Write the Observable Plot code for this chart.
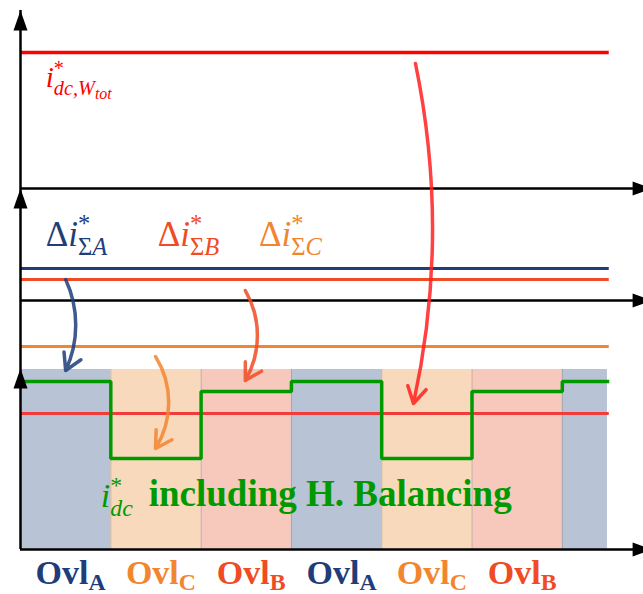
<!DOCTYPE html>
<html><head><meta charset="utf-8">
<script src="https://cdn.jsdelivr.net/npm/d3@7"></script>
<script src="https://cdn.jsdelivr.net/npm/@observablehq/plot@0.6"></script>
<style>body{margin:0;background:#fff}</style>
</head><body>
<script>
// ---- data (time in overload periods, currents in arbitrary units) ----
const phases      = ["A", "C", "B", "A", "C", "B", "A"];
const phaseStart  = [0, 1, 2, 3, 4, 5, 6];
const phaseEnd    = [1, 2, 3, 4, 5, 6, 6.5];
const dcRefLevel  = [168, 91, 158, 168, 91, 158, 168]; // i*_dc incl. H. balancing
const lineEnd     = 6.52;
const shadeTop    = 180;

const levelNames  = ["iWtot", "dA", "dB", "dC", "iWtotBottom"];
const levelValues = [497, 281, 270, 203, 136];
const levelColors = ["#ff0000", "#1f3d79", "#ef4b25", "#f28530", "#f23b3b"];
const levelWidths = [3.5, 3, 3, 3, 3];

const axisBaselines = [361, 249, 0];
const axisTops      = [539, 361, 181];
const axisXTip      = 7;

const phaseFill  = {A: "#b8c3d5", C: "#f9d9bb", B: "#f7c9bc"};
const phaseInk   = {A: "#1f3d79", C: "#f28530", B: "#ef4b25"};
const ovlLabels  = ["Ovl_{A}", "Ovl_{C}", "Ovl_{B}", "Ovl_{A}", "Ovl_{C}", "Ovl_{B}"];
const ovlBaseline = -34;

const mathLabels = ["i^{*}_{dc,W}__{tot}", "Δi^{*}_{ΣA}", "Δi^{*}_{ΣB}", "Δi^{*}_{ΣC}", "i^{*}_{dc}"];
const mathT      = [0.28, 0.28, 1.52, 2.64, 0.89];
const mathV      = [463, 304, 304, 304, 43];
const mathColor  = ["#ff0000", "#1f3d79", "#ef4b25", "#f28530", "#009a00"];
const mathSize   = [29, 35, 35, 35, 34];

const wordLabel = "including H. Balancing";
const wordT = 1.42, wordV = 44;

const arrowX1 = [0.50, 1.495, 2.49, 4.374];
const arrowY1 = [270, 193, 259, 486];
const arrowX2 = [0.50, 1.495, 2.49, 4.352];
const arrowY2 = [179, 101, 169, 146];
const arrowBend = [25, 32, 30, 12];
const arrowColor = ["#1f3d79", "#f28530", "#ef4b25", "#ff2020"];

const serif = "Times New Roman";

// ---- tables built from the arrays ----
const segs = phases.map((p, i) => ({phase: p, x1: phaseStart[i], x2: phaseEnd[i], level: dcRefLevel[i]}));
const stepPts = segs.map(s => ({t: s.x1, v: s.level})).concat([{t: lineEnd, v: dcRefLevel[dcRefLevel.length - 1]}]);
const levels = levelNames.map((n, i) => ({name: n, v: levelValues[i], color: levelColors[i], w: levelWidths[i]}));
const bounds = phaseStart.slice(1);
const vTips = axisTops.map(v => ({t: 0, v, r: 0}));
const hTips = axisBaselines.map(v => ({t: axisXTip, v, r: 90}));
const ovl = ovlLabels.map((l, i) => ({label: l, t: (phaseStart[i] + phaseEnd[i]) / 2, phase: phases[i]}));
const maths = mathLabels.map((l, i) => ({label: l, t: mathT[i], v: mathV[i], color: mathColor[i], size: mathSize[i]}));
const arrows = arrowX1.map((_, i) => ({x1: arrowX1[i], y1: arrowY1[i], x2: arrowX2[i], y2: arrowY2[i], bend: arrowBend[i], color: arrowColor[i]}));

const triangle = {draw(ctx, l) { ctx.moveTo(0, -l); ctx.lineTo(-7, 0); ctx.lineTo(7, 0); ctx.closePath(); }};

const svg = Plot.plot({
  width: 643, height: 594,
  margin: 0,
  x: {domain: [0, 6], range: [20, 561.8], axis: null},
  y: {domain: [0, 539], range: [549, 10], axis: null},
  color: {type: "identity"},
  marks: [
    Plot.rectY(segs, {x1: "x1", x2: "x2", y1: 0, y2: shadeTop, fill: d => phaseFill[d.phase]}),
    Plot.ruleX(bounds, {x: d => d, y1: 0, y2: shadeTop, stroke: "#8a8080", strokeOpacity: 0.45, strokeWidth: 1}),
    Plot.ruleY(levels, {y: "v", x1: 0, x2: lineEnd, stroke: "color", strokeWidth: "w"}),
    Plot.line(stepPts, {x: "t", y: "v", curve: "step-after", stroke: "#009a00", strokeWidth: 3.5, strokeLinecap: "butt", strokeLinejoin: "miter"}),
    Plot.ruleX([0], {x: d => d, y1: 0, y2: axisTops[0], stroke: "black", strokeWidth: 2.5}),
    Plot.ruleY(axisBaselines, {y: d => d, x1: 0, x2: axisXTip, stroke: "black", strokeWidth: 2.5}),
    Plot.vector(vTips.concat(hTips), {x: "t", y: "v", rotate: "r", length: 20, anchor: "end", shape: triangle, fill: "black", stroke: "none"}),
    ...arrows.map(a => Plot.arrow([a], {x1: "x1", y1: "y1", x2: "x2", y2: "y2", bend: a.bend, stroke: "color", strokeWidth: 3.5, strokeOpacity: 0.85, headLength: 8})),
    Plot.text(maths, {x: "t", y: "v", text: "label", fill: "color", fontSize: "size", textAnchor: "start", lineAnchor: "bottom", fontFamily: serif, fontStyle: "italic"}),
    Plot.text([wordLabel], {x: () => wordT, y: () => wordV, text: d => d, fill: "#009a00", fontSize: 37, textAnchor: "start", lineAnchor: "bottom", fontFamily: serif, fontWeight: "bold"}),
    Plot.text(ovl, {x: "t", y: () => ovlBaseline, dx: 5, text: "label", fill: d => phaseInk[d.phase], fontSize: 34, textAnchor: "middle", lineAnchor: "bottom", fontFamily: serif, fontWeight: "bold"})
  ]
});

// rich text: ^{sup}, _{sub}, __{subsub} (no layout measurement needed)
function richify(root) {
  const NS = "http://www.w3.org/2000/svg";
  for (const t of root.querySelectorAll("text")) {
    const s = t.textContent;
    if (!/(\^|_)\{/.test(s)) continue;
    const base = parseFloat(t.getAttribute("font-size") || t.parentNode.getAttribute("font-size") || 30);
    const toks = [...s.matchAll(/(\^|__|_)\{([^}]*)\}|([^^_]+)/g)];
    t.textContent = "";
    let cur = 0, prev = "base", supW = 0;
    for (const m of toks) {
      const kind = m[1] === "^" ? "sup" : m[1] === "__" ? "subsub" : m[1] === "_" ? "sub" : "base";
      const str = m[2] !== undefined ? m[2] : m[3];
      const size = kind === "base" ? base : kind === "subsub" ? 0.55 * base : 0.7 * base;
      const target = kind === "base" ? 0 : kind === "sup" ? -0.4 * base
        : kind === "sub" ? (prev === "sup" ? 0.28 : 0.18) * base : cur + 0.15 * base;
      const pieces = str.split(/([ΔΣ*])/).filter(p => p.length);
      let first = true;
      for (const p of pieces) {
        const ts = document.createElementNS(NS, "tspan");
        ts.textContent = p;
        ts.setAttribute("font-size", size);
        if (/[ΔΣ*]/.test(p)) ts.setAttribute("font-style", "normal");
        if (first) {
          ts.setAttribute("dy", target - cur);
          if (kind === "sub" && prev === "sup") ts.setAttribute("dx", -supW);
        }
        t.appendChild(ts);
        first = false;
      }
      cur = target;
      if (kind === "sup") supW = 0.5 * size * str.length;
      prev = kind;
    }
  }
}
richify(svg);
document.body.append(svg);
</script>
</body></html>
